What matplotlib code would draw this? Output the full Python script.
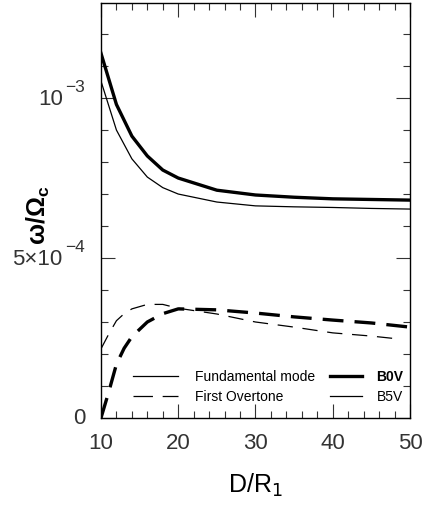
import numpy as np
import matplotlib
matplotlib.use('Agg')
import matplotlib.pyplot as plt
import matplotlib.transforms as mtransforms
from matplotlib.ticker import MultipleLocator, FixedLocator, NullFormatter

plt.rcParams['font.family'] = ['Liberation Sans', 'DejaVu Sans']
plt.rcParams['mathtext.fontset'] = 'custom'
plt.rcParams['mathtext.rm'] = 'Liberation Sans'
plt.rcParams['mathtext.it'] = 'Liberation Sans'
plt.rcParams['mathtext.bf'] = 'Liberation Sans:bold'
plt.rcParams['lines.scale_dashes'] = False

# fundamental mode, D/R1 vs omega/Omega_c
d_fund = [10, 12, 14, 16, 18, 20, 25, 30, 35, 40, 45, 50]
b0v_fund = [1.14e-3, 0.98e-3, 0.881e-3, 0.819e-3, 0.775e-3, 0.750e-3,
            0.712e-3, 0.697e-3, 0.690e-3, 0.685e-3, 0.683e-3, 0.681e-3]
b5v_fund = [1.053e-3, 0.90e-3, 0.81e-3, 0.753e-3, 0.72e-3, 0.700e-3,
            0.675e-3, 0.663e-3, 0.660e-3, 0.658e-3, 0.655e-3, 0.653e-3]

# first overtone
d_b0v_ot = [10, 11, 12, 13, 14, 16, 18, 20, 25, 30, 35, 40, 45, 50]
b0v_ot = [0.0, 0.081e-3, 0.168e-3, 0.218e-3, 0.254e-3, 0.300e-3, 0.326e-3,
          0.341e-3, 0.338e-3, 0.328e-3, 0.316e-3, 0.306e-3, 0.297e-3, 0.284e-3]
d_b5v_ot = [10, 11, 12, 13, 14, 16, 18, 20, 25, 30, 35, 40, 45, 48.5]
b5v_ot = [0.216e-3, 0.262e-3, 0.304e-3, 0.326e-3, 0.341e-3, 0.355e-3, 0.355e-3,
          0.343e-3, 0.325e-3, 0.300e-3, 0.284e-3, 0.266e-3, 0.256e-3, 0.247e-3]

# y tick labels: mantissa and exponent written separately
ytick_vals = [0, 5e-4, 1e-3]
ytick_mant = ['0', '5\u00d710', '10']
ytick_exp = ['', '\u22124', '\u22123']

fig = plt.figure(figsize=(4.25, 5.06), dpi=100)
ax = fig.add_axes([0.2376, 0.172, 0.727, 0.820])

thick, thin = 2.4, 0.9
ax.plot(d_fund, b0v_fund, color='black', lw=thick)
ax.plot(d_fund, b5v_fund, color='black', lw=thin)
ax.plot(d_b0v_ot, b0v_ot, color='black', lw=thick, dashes=(15, 8))
ax.plot(d_b5v_ot, b5v_ot, color='black', lw=thin, dashes=(11, 7))

ax.set_xlim(10, 50)
ax.set_ylim(0, 1.297e-3)

# legend drawn by hand: line style on the left, star type on the right
tr = ax.transAxes
ax.plot([0.103, 0.25], [0.101, 0.101], color='black', lw=thin, transform=tr)
ax.plot([0.103, 0.25], [0.052, 0.052], color='black', lw=thin, transform=tr, dashes=(14, 7))
ax.text(0.305, 0.101, 'Fundamental mode', transform=tr, fontsize=10, va='center')
ax.text(0.305, 0.052, 'First Overtone', transform=tr, fontsize=10, va='center')
ax.plot([0.74, 0.845], [0.101, 0.101], color='black', lw=thick, transform=tr)
ax.plot([0.74, 0.845], [0.052, 0.052], color='black', lw=thin, transform=tr)
ax.text(0.978, 0.101, 'B0V', transform=tr, fontsize=10, va='center', ha='right', fontweight='bold')
ax.text(0.978, 0.052, 'B5V', transform=tr, fontsize=10, va='center', ha='right')

ax.xaxis.set_major_locator(MultipleLocator(10))
ax.xaxis.set_minor_locator(MultipleLocator(2))
ax.yaxis.set_major_locator(FixedLocator(ytick_vals))
ax.yaxis.set_minor_locator(MultipleLocator(1e-4))
ax.yaxis.set_major_formatter(NullFormatter())
ax.tick_params(which='both', direction='in', top=True, right=True, color='#333333')
ax.tick_params(which='major', length=10, width=0.8, labelsize=16, labelcolor='#333333')
ax.tick_params(axis='x', which='major', pad=10)
ax.tick_params(which='minor', length=5, width=0.8)
for s in ax.spines.values():
    s.set_linewidth(1.0)

ytr = mtransforms.blended_transform_factory(ax.transAxes, ax.transData)
for v, m, e in zip(ytick_vals, ytick_mant, ytick_exp):
    off = -27.5 if e else -11.5
    t = ax.annotate(m, xy=(0, v), xycoords=ytr, xytext=(off, 0), textcoords='offset points',
                    ha='right', va='center', fontsize=16, color='#333333')
    if e:
        ax.annotate(e, xy=(1, 1), xycoords=t, xytext=(1.5, 1.0), textcoords='offset points',
                    ha='left', va='center', fontsize=12.5, color='#333333')

ax.set_xlabel(r'D/R$_\mathsf{1}$', fontsize=18)
ax.xaxis.set_label_coords(0.5, -0.128)
ax.set_ylabel(r'ω/Ω$_\mathbf{c}$', fontsize=18, fontweight='bold')
ax.yaxis.set_label_coords(-0.16, 0.49)

fig.savefig('out.png', dpi=100)
